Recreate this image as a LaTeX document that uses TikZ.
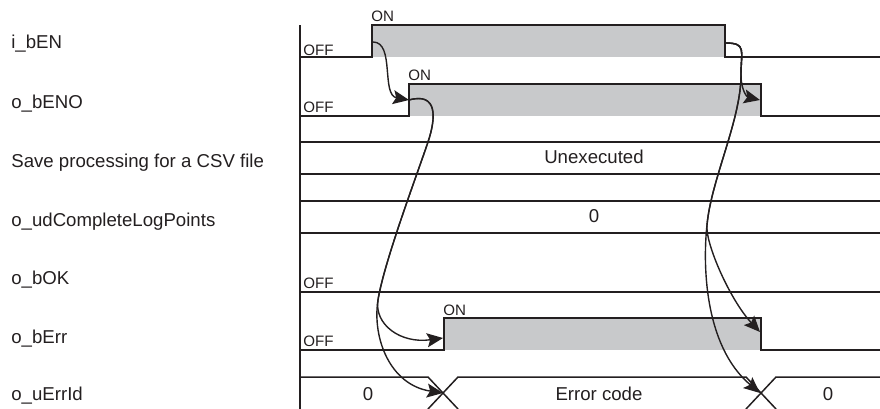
\documentclass[tikz,border=0pt]{standalone}
\usepackage{fontspec}
\setmainfont{Liberation Sans}
\usetikzlibrary{arrows.meta}
\definecolor{ink}{RGB}{35,31,32}
\definecolor{pulse}{RGB}{200,201,203}

\begin{document}
\begin{tikzpicture}[x=0.2mm, y=-0.2mm,
    sig/.style={ink, line width=0.3mm},
    flow/.style={ink, line width=0.28mm, -{Stealth[length=3.2mm,width=2.8mm,inset=0.6mm]}},
    lbl/.style={inner sep=0pt, anchor=base west, text=ink, font=\fontsize{10.6}{12}\selectfont},
    lvl/.style={inner sep=0pt, anchor=base west, text=ink, font=\fontsize{8.6}{10}\selectfont},
    val/.style={inner sep=0pt, anchor=base, text=ink, font=\fontsize{10.6}{12}\selectfont}]
    \useasboundingbox (0,0) rectangle (880,409);

    % signal names
    \foreach \name/\txt/\y in {en/i\_bEN/48, eno/o\_bENO/108,
        save/Save processing for a CSV file/167, pts/o\_udCompleteLogPoints/226,
        ok/o\_bOK/284, err/o\_bErr/343, id/o\_uErrId/400}
        \node[lbl] (\name) at (11,\y) {\txt};

    \draw[sig] (300,25) -- (300,409);

    % pulses: low / high / rising / falling
    \foreach \lo/\hi/\up/\dn in {57/25/372/725, 116/84/409/761, 350/318/444/761}
    {
        \fill[pulse] (\up,\hi) rectangle (\dn,\lo);
        \draw[sig] (300,\lo) -- (\up,\lo) -- (\up,\hi) -- (\dn,\hi) -- (\dn,\lo) -- (880,\lo);
    }
    \draw[sig] (300,292) -- (880,292);
    \foreach \y in {142,174,201,233}
        \draw[sig] (300,\y) -- (880,\y);
    %\draw[sig] (300,409) -- (880,409);
    \draw[sig] (300,377) -- (428,377) -- (458,409) (428,409) -- (458,377) -- (746,377) -- (776,409)
               (746,409) -- (776,377) -- (880,377);

    \node[lvl] (enOff)  at (303,55)  {OFF};
    \node[lvl] (enoOff) at (303,112) {OFF};
    \node[lvl] (okOff)  at (303,288) {OFF};
    \node[lvl] (errOff) at (303,346) {OFF};
    \node[lvl] (enOn)   at (371,22)  {ON};
    \node[lvl] (enoOn)  at (408,80)  {ON};
    \node[lvl] (errOn)  at (443,315) {ON};

    \node[val] (saveVal) at (594,163) {Unexecuted};
    \node[val] (ptsVal)  at (594,222) {0};
    \node[val] (idOld)   at (368,400) {0};
    \node[val] (idCode)  at (599,400) {Error code};
    \node[val] (idNew)   at (828,400) {0};

    % edges the arrows run between
    \coordinate (enUp)   at (373,42);
    \coordinate (enDn)   at (725,43);
    \coordinate (enoUp)  at (409,100);
    \coordinate (enoDn)  at (760,100);
    \coordinate (errUp)  at (443,338);
    \coordinate (errDn)  at (760,332);
    \coordinate (idSet)  at (443,393);
    \coordinate (idClr)  at (760,393);

    \draw[flow] (enUp) .. controls +(22,0) and +(-28,-5) .. (enoUp);
    \draw[flow] (enoUp) .. controls (438,92) and (436,118) .. (428,142)
                .. controls (418,172) and (384,262) .. (378,300)
                .. controls (374,324) and (400,344) .. (errUp);
    \draw[flow] (enoUp) .. controls (438,92) and (436,118) .. (428,142)
                .. controls (418,172) and (384,262) .. (378,300)
                .. controls (372,338) and (390,385) .. (idSet);

    \draw[flow] (enDn) .. controls +(22,0) and (741,50) .. (741,75)
                .. controls (741,90) and (747,97) .. (enoDn);
    \draw[flow] (enDn) .. controls +(22,0) and (741,50) .. (741,75)
                .. controls (741,120) and (711,180) .. (707,225)
                .. controls (705,243) and (730,300) .. (errDn);
    \draw[flow] (enDn) .. controls +(22,0) and (741,50) .. (741,75)
                .. controls (741,120) and (711,180) .. (707,225)
                .. controls (703,261) and (703,345) .. (idClr);
\end{tikzpicture}
\end{document}
